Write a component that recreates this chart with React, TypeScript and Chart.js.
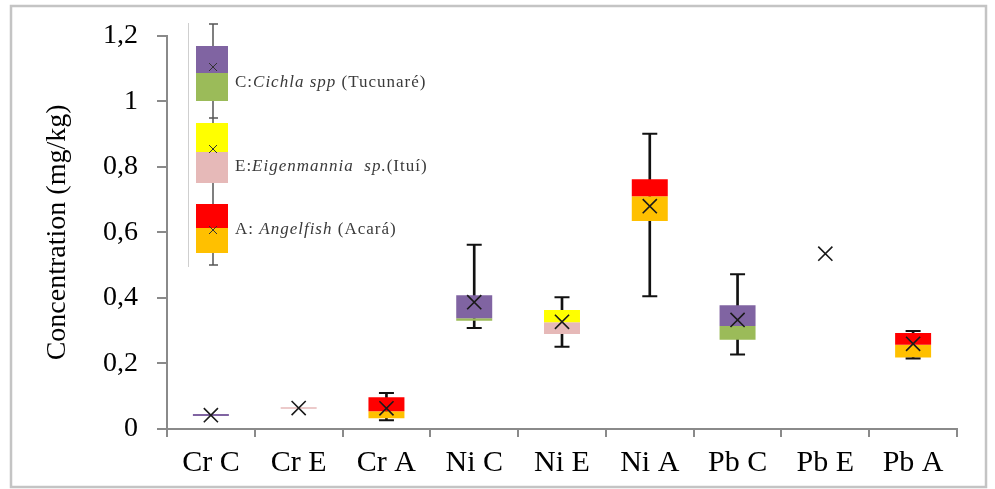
import React, { useEffect, useRef } from "react";
import { Chart, registerables } from "chart.js";

Chart.register(...registerables);

// ---- data ----
const categories = ["Cr C", "Cr E", "Cr A", "Ni C", "Ni E", "Ni A", "Pb C", "Pb E", "Pb A"];
const groups = ["C", "E", "A", "C", "E", "A", "C", "E", "A"];
const minVals = [null, null, 0.027, 0.308, 0.251, 0.405, 0.227, null, 0.215];
const q1Vals = [0.040, 0.062, 0.033, 0.330, 0.290, 0.635, 0.272, 0.535, 0.218];
const medianVals = [0.040, 0.066, 0.054, 0.338, 0.326, 0.710, 0.314, 0.535, 0.257];
const q3Vals = [0.046, 0.066, 0.097, 0.408, 0.363, 0.762, 0.378, 0.535, 0.293];
const maxVals = [null, null, 0.110, 0.562, 0.402, 0.901, 0.472, null, 0.299];
const meanVals = [0.042, 0.064, 0.063, 0.387, 0.327, 0.680, 0.333, 0.535, 0.260];
const yTickLabels = ["0", "0,2", "0,4", "0,6", "0,8", "1", "1,2"];

const upperColor: Record<string, string> = { C: "#8064A2", E: "#FFFF00", A: "#FF0000" };
const lowerColor: Record<string, string> = { C: "#9BBB59", E: "#E6B9B8", A: "#FFC000" };

const legendItems = [
  { prefix: "C:", italic: "Cichla spp", suffix: " (Tucunaré)", group: "C" },
  { prefix: "E:", italic: "Eigenmannia  sp.", suffix: "(Ituí)", group: "E" },
  { prefix: "A: ", italic: "Angelfish", suffix: " (Acará)", group: "A" },
];

const SERIF = "'Liberation Serif', 'Times New Roman', serif";

const framePlugin = {
  id: "frame",
  afterDraw(chart: any) {
    const ctx = chart.ctx;
    ctx.save();
    ctx.strokeStyle = "#c4c4c4";
    ctx.lineWidth = 2.5;
    ctx.strokeRect(11, 6, 975, 481);
    ctx.restore();
  },
};

const legendPlugin = {
  id: "boxLegend",
  afterDraw(chart: any) {
    const ctx = chart.ctx;
    ctx.save();
    // thin separator line
    ctx.strokeStyle = "#cfcfcf";
    ctx.lineWidth = 1;
    ctx.beginPath();
    ctx.moveTo(188.5, 23);
    ctx.lineTo(188.5, 267);
    ctx.stroke();
    // whisker
    ctx.strokeStyle = "#555";
    ctx.lineWidth = 1.5;
    ctx.beginPath();
    ctx.moveTo(213, 24);
    ctx.lineTo(213, 265);
    [24, 118, 265].forEach((y) => {
      ctx.moveTo(209, y);
      ctx.lineTo(218, y);
    });
    ctx.stroke();
    const boxes = [
      { top: 46, mid: 73, bottom: 101, mean: 67, textY: 83 },
      { top: 123, mid: 152, bottom: 183, mean: 149, textY: 167 },
      { top: 204, mid: 228, bottom: 253, mean: 230, textY: 230 },
    ];
    boxes.forEach((b, i) => {
      const g = legendItems[i].group;
      ctx.fillStyle = upperColor[g];
      ctx.fillRect(196, b.top, 32, b.mid - b.top);
      ctx.fillStyle = lowerColor[g];
      ctx.fillRect(196, b.mid, 32, b.bottom - b.mid);
      ctx.strokeStyle = "#333";
      ctx.lineWidth = 1;
      ctx.beginPath();
      ctx.moveTo(209, b.mean - 4);
      ctx.lineTo(217, b.mean + 4);
      ctx.moveTo(217, b.mean - 4);
      ctx.lineTo(209, b.mean + 4);
      ctx.stroke();
      // text
      const it = legendItems[i];
      ctx.fillStyle = "#3a3a3a";
      ctx.textBaseline = "middle";
      ctx.textAlign = "left";
      (ctx as any).letterSpacing = "1px";
      let x = 235;
      ctx.font = `17px ${SERIF}`;
      ctx.fillText(it.prefix, x, b.textY);
      x += ctx.measureText(it.prefix).width;
      ctx.font = `italic 17px ${SERIF}`;
      ctx.fillText(it.italic, x, b.textY);
      x += ctx.measureText(it.italic).width;
      ctx.font = `17px ${SERIF}`;
      ctx.fillText(it.suffix, x, b.textY);
    });
    ctx.restore();
  },
};

export default function App() {
  const ref = useRef<HTMLCanvasElement | null>(null);

  useEffect(() => {
    if (!ref.current) return;
    const whiskerData = minVals.map((m, i) =>
      m === null || maxVals[i] === null ? null : [m, maxVals[i]]
    );
    const upperData = categories.map((_, i) => [medianVals[i], q3Vals[i]]);
    const lowerData = categories.map((_, i) => [q1Vals[i], medianVals[i]]);

    const chart = new Chart(ref.current, {
      type: "bar",
      data: {
        labels: categories,
        datasets: [
          {
            type: "bar",
            label: "whisker",
            data: whiskerData as any,
            backgroundColor: "#111",
            barThickness: 2,
            grouped: false,
            order: 4,
          } as any,
          {
            type: "bar",
            label: "upper",
            data: upperData as any,
            backgroundColor: groups.map((g) => upperColor[g]),
            borderWidth: 0,
            categoryPercentage: 1,
            barPercentage: 0.41,
            grouped: false,
            order: 3,
          } as any,
          {
            type: "bar",
            label: "lower",
            data: lowerData as any,
            backgroundColor: groups.map((g) => lowerColor[g]),
            borderWidth: 0,
            categoryPercentage: 1,
            barPercentage: 0.41,
            grouped: false,
            order: 3,
          } as any,
          {
            type: "line",
            label: "max",
            data: maxVals as any,
            showLine: false,
            pointStyle: "line",
            pointRadius: 7.5,
            borderColor: "#111",
            borderWidth: 2,
            order: 1,
          } as any,
          {
            type: "line",
            label: "min",
            data: minVals as any,
            showLine: false,
            pointStyle: "line",
            pointRadius: 7.5,
            borderColor: "#111",
            borderWidth: 2,
            order: 1,
          } as any,
          {
            type: "line",
            label: "mean",
            data: meanVals as any,
            showLine: false,
            pointStyle: "crossRot",
            pointRadius: 10,
            borderColor: "#1a1a1a",
            borderWidth: 1.6,
            order: 0,
          } as any,
        ],
      },
      options: {
        responsive: false,
        animation: false,
        devicePixelRatio: 1,
        layout: { padding: { left: 0, top: 32, right: 38, bottom: 0 } },
        plugins: {
          legend: { display: false },
          tooltip: { enabled: false },
        },
        scales: {
          x: {
            type: "category",
            offset: true,
            grid: {
              offset: true,
              drawOnChartArea: false,
              drawTicks: true,
              tickLength: 8,
              color: "#8a8a8a",
              lineWidth: 2,
            },
            border: { display: true, color: "#8a8a8a", width: 2 },
            ticks: {
              color: "#000",
              padding: 8,
              font: { family: SERIF, size: 30 },
              maxRotation: 0,
              autoSkip: false,
            },
            afterFit: (s: any) => {
              s.height = 60;
            },
          },
          y: {
            min: 0,
            max: 1.2,
            grid: {
              drawOnChartArea: false,
              drawTicks: true,
              tickLength: 10,
              color: "#8a8a8a",
              lineWidth: 2,
            },
            border: { display: true, color: "#8a8a8a", width: 2 },
            ticks: {
              stepSize: 0.2,
              color: "#000",
              padding: 19,
              font: { family: SERIF, size: 28 },
              callback: (_v: any, i: number) => yTickLabels[i],
            },
            title: {
              display: true,
              text: "Concentration (mg/kg)",
              color: "#000",
              font: { family: SERIF, size: 28 },
              padding: { top: 41, bottom: 0 },
            },
            afterFit: (s: any) => {
              s.width = 167;
            },
          },
        },
      } as any,
      plugins: [framePlugin, legendPlugin],
    });
    return () => chart.destroy();
  }, []);

  return (
    <div style={{ position: "absolute", left: 0, top: 0, width: 995, height: 489, background: "#fff" }}>
      <canvas ref={ref} width={995} height={489} style={{ display: "block", width: 995, height: 489 }} />
    </div>
  );
}
